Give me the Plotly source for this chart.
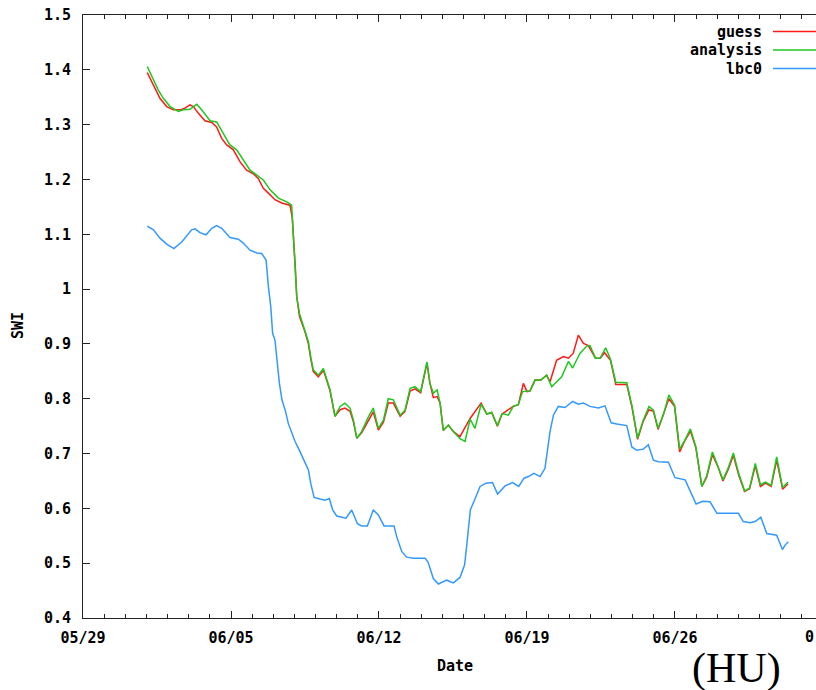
import plotly.graph_objects as go
import pandas as pd

BASE = pd.Timestamp("2013-05-29")

# ---- data: days since 05/29 00:00, SWI values ----
guess_days = [3.04, 3.33, 3.64, 3.96, 4.27, 4.59, 4.82, 5.06, 5.22, 5.45, 5.77, 6.09, 6.32, 6.56, 6.80,
              7.11, 7.43, 7.74, 8.06, 8.29, 8.53, 8.77, 9.08, 9.40, 9.79, 9.90, 9.98, 10.04, 10.11, 10.24,
              10.50, 10.66, 10.77, 10.89, 11.13, 11.37, 11.49, 11.68, 11.92, 12.16, 12.39, 12.63, 12.79,
              12.95, 13.18, 13.50, 13.73, 13.97, 14.21, 14.44, 14.68, 15.00, 15.23, 15.47, 15.70, 15.97,
              16.27, 16.41, 16.57, 16.75, 16.89, 17.04, 17.28, 17.52, 17.83, 18.31, 18.83, 19.10, 19.33,
              19.60, 19.82, 20.12, 20.35, 20.59, 20.83, 21.00, 21.14, 21.38, 21.66, 21.93, 22.09, 22.40,
              22.72, 22.96, 23.19, 23.43, 23.67, 23.90, 24.24, 24.46, 24.67, 24.95, 25.20, 25.72, 25.97,
              26.23, 26.49, 26.77, 26.98, 27.20, 27.47, 27.71, 27.98, 28.22, 28.45, 28.73, 28.99, 29.27,
              29.50, 29.77, 30.03, 30.27, 30.53, 30.76, 31.02, 31.29, 31.53, 31.80, 32.04, 32.28, 32.55,
              32.81, 33.09, 33.35]
guess_vals = [1.395, 1.372, 1.348, 1.333, 1.327, 1.327, 1.330, 1.336, 1.333, 1.321, 1.307, 1.304, 1.296,
              1.275, 1.263, 1.254, 1.232, 1.217, 1.210, 1.202, 1.184, 1.175, 1.163, 1.157, 1.153, 1.129,
              1.084, 1.041, 0.986, 0.950, 0.922, 0.900, 0.873, 0.850, 0.840, 0.852, 0.838, 0.815, 0.768,
              0.780, 0.783, 0.777, 0.758, 0.728, 0.738, 0.760, 0.776, 0.743, 0.757, 0.792, 0.792, 0.768,
              0.777, 0.814, 0.818, 0.811, 0.865, 0.828, 0.802, 0.804, 0.792, 0.742, 0.752, 0.740, 0.731,
              0.764, 0.792, 0.772, 0.775, 0.750, 0.772, 0.780, 0.786, 0.789, 0.828, 0.813, 0.814, 0.834,
              0.834, 0.843, 0.831, 0.870, 0.877, 0.874, 0.883, 0.916, 0.901, 0.897, 0.874, 0.874, 0.884,
              0.870, 0.826, 0.826, 0.784, 0.726, 0.758, 0.780, 0.777, 0.744, 0.772, 0.800, 0.786, 0.703,
              0.722, 0.741, 0.710, 0.640, 0.657, 0.698, 0.676, 0.650, 0.672, 0.697, 0.660, 0.631, 0.636,
              0.678, 0.640, 0.646, 0.640, 0.688, 0.635, 0.645]

analysis_days = [3.04, 3.33, 3.56, 3.80, 4.12, 4.51, 4.74, 5.06, 5.38, 5.61, 6.01, 6.32, 6.64, 6.95, 7.27,
                 7.58, 7.90, 8.22, 8.53, 8.85, 9.24, 9.64, 9.87, 9.90, 9.98, 10.04, 10.11, 10.24, 10.50,
                 10.66, 10.77, 10.89, 11.13, 11.37, 11.49, 11.68, 11.92, 12.16, 12.39, 12.63, 12.79, 12.95,
                 13.18, 13.50, 13.73, 13.97, 14.21, 14.44, 14.68, 15.00, 15.23, 15.47, 15.70, 15.97, 16.27,
                 16.41, 16.57, 16.75, 16.89, 17.04, 17.28, 17.52, 17.83, 18.07, 18.31, 18.54, 18.83, 19.10,
                 19.33, 19.60, 19.82, 20.12, 20.35, 20.59, 20.79, 21.14, 21.38, 21.66, 21.93, 22.17, 22.64,
                 22.96, 23.16, 23.51, 23.83, 23.98, 24.24, 24.46, 24.72, 24.95, 25.20, 25.72, 25.97, 26.23,
                 26.49, 26.77, 26.98, 27.20, 27.47, 27.71, 27.98, 28.22, 28.45, 28.73, 28.99, 29.27, 29.50,
                 29.77, 30.03, 30.27, 30.53, 30.76, 31.02, 31.29, 31.53, 31.80, 32.04, 32.28, 32.55, 32.81,
                 33.09, 33.35]
analysis_vals = [1.406, 1.381, 1.363, 1.348, 1.333, 1.324, 1.327, 1.328, 1.337, 1.327, 1.307, 1.305, 1.284,
                 1.263, 1.254, 1.236, 1.217, 1.208, 1.199, 1.181, 1.166, 1.159, 1.153, 1.132, 1.084, 1.041,
                 0.986, 0.955, 0.925, 0.904, 0.877, 0.853, 0.843, 0.855, 0.840, 0.817, 0.768, 0.786, 0.792,
                 0.783, 0.761, 0.728, 0.740, 0.767, 0.783, 0.746, 0.761, 0.800, 0.798, 0.770, 0.779, 0.819,
                 0.822, 0.813, 0.867, 0.828, 0.810, 0.816, 0.792, 0.742, 0.752, 0.740, 0.727, 0.722, 0.763,
                 0.746, 0.790, 0.772, 0.775, 0.751, 0.773, 0.770, 0.786, 0.789, 0.813, 0.814, 0.834, 0.834,
                 0.843, 0.822, 0.840, 0.868, 0.856, 0.883, 0.896, 0.897, 0.874, 0.874, 0.893, 0.872, 0.830,
                 0.829, 0.786, 0.728, 0.760, 0.786, 0.779, 0.746, 0.773, 0.807, 0.788, 0.708, 0.723, 0.745,
                 0.712, 0.640, 0.659, 0.703, 0.677, 0.652, 0.675, 0.701, 0.663, 0.632, 0.637, 0.682, 0.643,
                 0.648, 0.642, 0.694, 0.638, 0.648]

lbc0_days = [3.04, 3.33, 3.64, 3.96, 4.30, 4.67, 5.14, 5.30, 5.53, 5.82, 6.09, 6.32, 6.56, 6.95, 7.35, 7.58,
             7.90, 8.22, 8.45, 8.66, 8.77, 8.88, 8.97, 9.08, 9.16, 9.29, 9.41, 9.58, 9.71, 9.87, 10.03,
             10.21, 10.50, 10.66, 10.77, 10.93, 11.21, 11.45, 11.65, 11.81, 12.00, 12.24, 12.44, 12.71,
             12.98, 13.18, 13.45, 13.73, 13.97, 14.24, 14.71, 14.84, 15.08, 15.31, 15.62, 16.18, 16.32,
             16.57, 16.81, 17.20, 17.52, 17.83, 18.05, 18.16, 18.32, 18.54, 18.78, 19.06, 19.37, 19.61,
             19.96, 20.32, 20.61, 20.86, 21.07, 21.33, 21.62, 21.85, 21.96, 22.09, 22.25, 22.48, 22.80,
             23.16, 23.43, 23.67, 23.98, 24.38, 24.69, 24.98, 25.25, 25.72, 25.96, 26.19, 26.50, 26.74,
             26.98, 27.21, 27.69, 28.00, 28.48, 28.71, 29.00, 29.31, 29.66, 29.98, 31.00, 31.23, 31.55,
             31.79, 32.06, 32.34, 32.81, 33.08, 33.21, 33.36]
lbc0_vals = [1.115, 1.108, 1.093, 1.082, 1.074, 1.086, 1.108, 1.110, 1.103, 1.099, 1.111, 1.116, 1.111,
             1.094, 1.091, 1.084, 1.071, 1.066, 1.065, 1.053, 1.004, 0.968, 0.919, 0.907, 0.877, 0.828,
             0.798, 0.777, 0.755, 0.737, 0.722, 0.708, 0.685, 0.670, 0.646, 0.620, 0.617, 0.615, 0.618,
             0.597, 0.586, 0.584, 0.582, 0.597, 0.572, 0.568, 0.568, 0.597, 0.588, 0.568, 0.568, 0.548,
             0.521, 0.511, 0.509, 0.509, 0.502, 0.472, 0.462, 0.469, 0.464, 0.474, 0.497, 0.536, 0.597,
             0.617, 0.640, 0.646, 0.647, 0.626, 0.641, 0.647, 0.640, 0.655, 0.658, 0.664, 0.658, 0.673,
             0.700, 0.740, 0.770, 0.786, 0.784, 0.795, 0.790, 0.792, 0.786, 0.783, 0.787, 0.756, 0.754,
             0.751, 0.712, 0.706, 0.708, 0.716, 0.688, 0.685, 0.684, 0.656, 0.652, 0.633, 0.608, 0.613,
             0.612, 0.591, 0.591, 0.576, 0.574, 0.576, 0.584, 0.554, 0.551, 0.525, 0.533, 0.539]

series_names = ["guess", "analysis", "lbc0"]
series_colors = ["#ff1a1a", "#1ec81e", "#3399ff"]
y_ticks = [0.4, 0.5, 0.6, 0.7, 0.8, 0.9, 1.0, 1.1, 1.2, 1.3, 1.4, 1.5]
y_tick_text = ["0.4", "0.5", "0.6", "0.7", "0.8", "0.9", "1", "1.1", "1.2", "1.3", "1.4", "1.5"]
x_tick_dates = ["05/29", "06/05", "06/12", "06/19", "06/26"]
x_range_days = [0.0, 34.67]

MONO = "DejaVu Sans Mono"
FS = 15


def to_dates(days):
    return [BASE + pd.Timedelta(days=d) for d in days]


fig = go.Figure()
for name, days, vals, col in [
    (series_names[0], guess_days, guess_vals, series_colors[0]),
    (series_names[1], analysis_days, analysis_vals, series_colors[1]),
    (series_names[2], lbc0_days, lbc0_vals, series_colors[2]),
]:
    fig.add_trace(go.Scatter(x=to_dates(days), y=vals, mode="lines", name=name,
                             line=dict(color=col, width=1.5), showlegend=False))

W, H = 816, 690
ML, MT, MB, MR = 83, 15, 72, 0
PW, PH = W - ML - MR, H - MT - MB


def px_x(px):
    return (px - ML) / PW


def px_y(py):
    return (H - MB - py) / PH


annotations = []
shapes = []
leg_y = [31.5, 50, 68.5]
for i, name in enumerate(series_names):
    annotations.append(dict(x=px_x(764), y=px_y(leg_y[i]), xref="paper", yref="paper",
                            text="<b>%s</b>" % name, showarrow=False, xanchor="right", yanchor="middle",
                            font=dict(family=MONO, size=FS, color="#000")))
    shapes.append(dict(type="line", xref="paper", yref="paper", x0=px_x(773), x1=px_x(830),
                       y0=px_y(leg_y[i]), y1=px_y(leg_y[i]),
                       line=dict(color=series_colors[i], width=1.5)))

# axis titles & the partly visible last tick label
annotations.append(dict(x=px_x(455), y=px_y(666), xref="paper", yref="paper", text="<b>Date</b>",
                        showarrow=False, xanchor="center", yanchor="middle",
                        font=dict(family=MONO, size=FS, color="#000")))
annotations.append(dict(x=px_x(18), y=px_y(326), xref="paper", yref="paper", text="<b>SWI</b>",
                        showarrow=False, xanchor="center", yanchor="middle", textangle=-90,
                        font=dict(family=MONO, size=FS, color="#000")))
annotations.append(dict(x=px_x(816), y=px_y(637), xref="paper", yref="paper", text="<b>0</b>",
                        showarrow=False, xanchor="right", yanchor="middle",
                        font=dict(family=MONO, size=FS, color="#000")))
annotations.append(dict(x=px_x(736), y=px_y(668), xref="paper", yref="paper", text="(HU)",
                        showarrow=False, xanchor="center", yanchor="middle",
                        font=dict(family="Liberation Serif", size=42, color="#000")))

fig.update_layout(
    width=W, height=H,
    margin=dict(l=ML, r=MR, t=MT, b=MB, pad=0),
    paper_bgcolor="white", plot_bgcolor="white",
    annotations=annotations, shapes=shapes,
    showlegend=False,
    xaxis=dict(
        type="date",
        range=[BASE + pd.Timedelta(days=x_range_days[0]), BASE + pd.Timedelta(days=x_range_days[1])],
        tickmode="array",
        tickvals=[pd.Timestamp("2013/" + d) for d in x_tick_dates],
        ticktext=["<b>%s</b>" % d for d in x_tick_dates],
        ticks="inside", ticklen=7, tickwidth=1, tickcolor="#222",
        minor=dict(dtick=86400000, tick0=BASE, ticks="inside", ticklen=4, tickwidth=1, tickcolor="#222",
                   showgrid=False),
        showline=True, linecolor="#222", linewidth=1, mirror="allticks",
        showgrid=False, zeroline=False,
        tickfont=dict(family=MONO, size=FS, color="#000"),
        ticklabelstandoff=6,
    ),
    yaxis=dict(
        range=[0.4, 1.5],
        tickmode="array", tickvals=y_ticks, ticktext=["<b>%s</b>" % t for t in y_tick_text],
        ticks="inside", ticklen=7, tickwidth=1, tickcolor="#222",
        showline=True, linecolor="#222", linewidth=1, mirror=False,
        showgrid=False, zeroline=False,
        tickfont=dict(family=MONO, size=FS, color="#000"),
        ticklabelstandoff=8,
    ),
)

fig.write_html("out.html")
